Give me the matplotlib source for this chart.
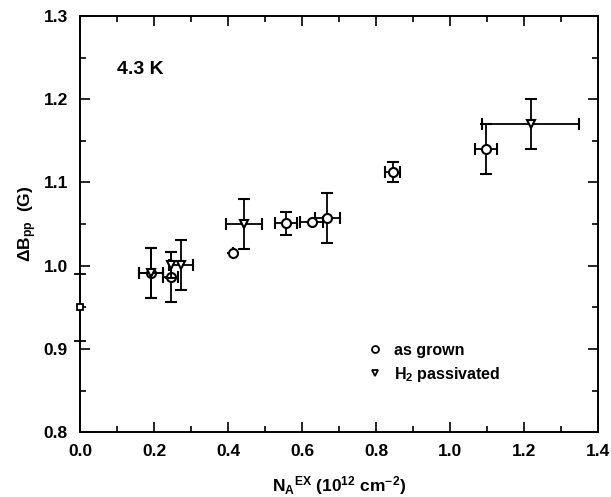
import matplotlib
matplotlib.use("Agg")
import matplotlib.pyplot as plt
from matplotlib.lines import Line2D
from matplotlib.ticker import MultipleLocator, FormatStrFormatter

plt.rcParams['font.family'] = ['Liberation Sans', 'DejaVu Sans']
plt.rcParams['font.weight'] = 'bold'
plt.rcParams['mathtext.fontset'] = 'custom'
plt.rcParams['mathtext.rm'] = 'Liberation Sans:bold'
plt.rcParams['mathtext.it'] = 'Liberation Sans:bold'
plt.rcParams['mathtext.bf'] = 'Liberation Sans:bold'
plt.rcParams['mathtext.default'] = 'regular'

# as grown (open circles)
grown_x = [0.191, 0.244, 0.413, 0.555, 0.625, 0.668, 0.844, 1.096]
grown_y = [0.991, 0.987, 1.015, 1.051, 1.052, 1.057, 1.113, 1.140]
grown_xerr = [0.032, 0.021, 0.0, 0.030, 0.030, 0.033, 0.021, 0.029]
grown_yerr = [0.030, 0.030, 0.0, 0.014, 0.0, 0.030, 0.012, 0.030]

# H2 passivated (open down-triangles)
pass_x = [0.191, 0.244, 0.272, 0.442, 1.217]
pass_y = [0.991, 1.001, 1.001, 1.050, 1.170]
pass_xerr = [0.032, 0.0, 0.032, 0.049, 0.130]
pass_yerr = [0.030, 0.016, 0.030, 0.030, 0.030]

# reference (square)
ref_x = [0.0]
ref_y = [0.95]
ref_yerr = [0.04]

fig = plt.figure(figsize=(6.11, 4.97), dpi=100)
ax = fig.add_axes([0.1314, 0.130, 0.8478, 0.838])

ekw = dict(ecolor='black', elinewidth=1.3, capsize=4, capthick=1.3, linestyle='none')
ax.errorbar(grown_x, grown_y, xerr=grown_xerr, yerr=grown_yerr, marker='o', ms=6.5,
            mfc='white', mec='black', mew=1.5, **ekw, zorder=3)
ax.errorbar(pass_x, pass_y, xerr=pass_xerr, yerr=pass_yerr, marker='v', ms=6,
            mfc='white', mec='black', mew=1.5, **ekw, zorder=4)
ax.errorbar(ref_x, ref_y, yerr=ref_yerr, marker='s', ms=5, mfc='white', mec='black',
            mew=1.3, clip_on=False, **ekw, zorder=5)

ax.set_xlim(0.0, 1.4)
ax.set_ylim(0.8, 1.3)
ax.xaxis.set_major_locator(MultipleLocator(0.2))
ax.xaxis.set_minor_locator(MultipleLocator(0.1))
ax.yaxis.set_major_locator(MultipleLocator(0.1))
ax.yaxis.set_minor_locator(MultipleLocator(0.05))
ax.xaxis.set_major_formatter(FormatStrFormatter('%.1f'))
ax.yaxis.set_major_formatter(FormatStrFormatter('%.1f'))
ax.tick_params(which='both', direction='in', top=True, right=True, width=1.2,
               labelsize=12.5)
ax.tick_params(which='major', length=7)
ax.tick_params(which='minor', length=4)
ax.tick_params(axis='x', pad=8)
ax.tick_params(axis='y', pad=9)
for s in ax.spines.values():
    s.set_linewidth(1.4)

ax.set_xlabel(r'N$_A$$^{EX}$ (10$^{12}$ cm$^{-2}$)', fontsize=12.5, fontweight='bold', labelpad=11)
ax.set_ylabel(r'$\Delta$B$_{pp}$  (G)', fontsize=12.5, fontweight='bold', labelpad=3)

ax.text(0.07, 0.86, '4.3 K', transform=ax.transAxes, fontsize=14, fontweight='bold',
        va='baseline')

handles = [
    Line2D([], [], marker='o', ls='none', ms=5, mfc='white', mec='black', mew=1.3),
    Line2D([], [], marker='v', ls='none', ms=5, mfc='white', mec='black', mew=1.3),
]
ax.legend(handles, ['as grown', r'H$_2$ passivated'], loc='upper left',
          bbox_to_anchor=(0.535, 0.235), frameon=False, fontsize=11.5,
          handletextpad=0.6, labelspacing=0.45, borderpad=0, handlelength=1.2)

fig.savefig('out.png', dpi=100)
